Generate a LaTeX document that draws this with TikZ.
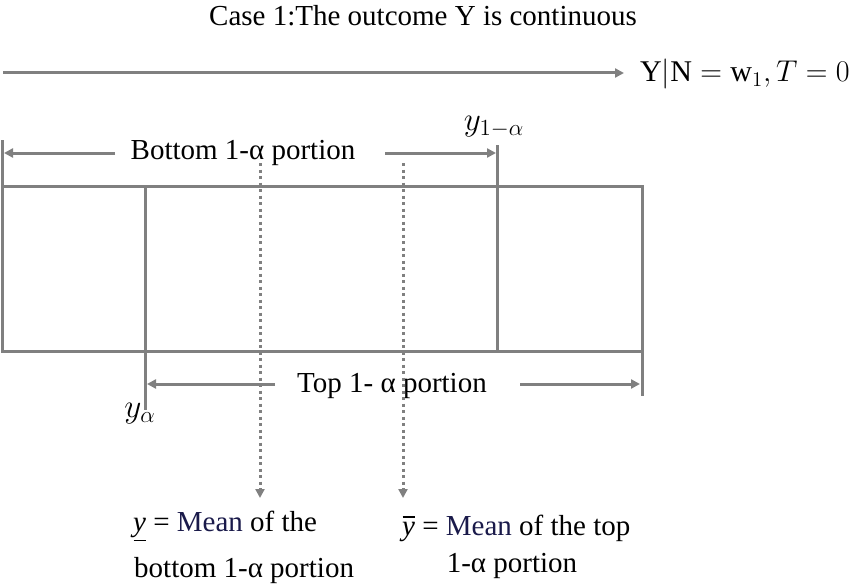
\documentclass[tikz,border=0pt]{standalone}
\usepackage{graphicx}
\usepackage{fontspec}
\setmainfont{Liberation Serif}
\usetikzlibrary{arrows.meta}
\definecolor{gr}{HTML}{808080}
\definecolor{meancol}{HTML}{1A1A4A}
\newcommand{\ybarover}{\ooalign{\textit{y}\cr\hidewidth\rule[0.6em]{0.42em}{0.045em}\hidewidth}}
\newcommand{\ybarunder}{\ooalign{\textit{y}\cr\hidewidth\rule[-0.34em]{0.42em}{0.045em}\hidewidth}}
\newcommand{\bigmath}[2]{\scalebox{#1}{$#2$}}
\begin{document}
\begin{tikzpicture}[x=1pt,y=-1pt,
  line/.style={draw=gr, line width=3pt},
  tip/.style={-{Triangle[length=9pt,width=9pt]}},
  dotline/.style={draw=gr, line width=3pt, dash pattern=on 3pt off 3.5pt},
  txt/.style={inner sep=0pt, font=\fontsize{29}{34}\selectfont},
  mtxt/.style={inner sep=0pt, font=\fontsize{20.74}{24}\selectfont}]
\useasboundingbox (0,0) rectangle (863,586);
% title
\node[txt] (title) at (423,16) {Case 1:The outcome Y is continuous};
% axis
\coordinate (a0) at (3,73);
\coordinate (a1) at (624,73);
\draw[line, tip] (a0) -- (a1);
\node[mtxt, anchor=west] (ylab) at (640,74) {\bigmath{1.45}{\mathrm{Y|N}=\mathrm{w}_1, T=0}};
% box
\draw[line] (2,186) rectangle (642,351);
\draw[line] (145,186) -- (145,351);
\draw[line] (497,186) -- (497,351);
% ticks
\draw[line] (2,186) -- (2,140);
\draw[line] (497,186) -- (497,145);
\draw[line] (145,351) -- (145,410);
\draw[line] (642,351) -- (642,396);
% bottom portion label
\node[txt] (bot) at (243,153) {Bottom 1-α portion};
\coordinate (b0) at (115,153);
\coordinate (b1) at (4,153);
\coordinate (b2) at (385,153);
\coordinate (b3) at (496,153);
\draw[line, tip] (b0) -- (b1);
\draw[line, tip] (b2) -- (b3);
\node[mtxt] (yq) at (494,127) {\bigmath{1.6}{y_{1-\alpha}}};
% top portion label
\node[txt] (top) at (392,386) {Top 1- α portion};
\coordinate (t0) at (275,384);
\coordinate (t1) at (147,384);
\coordinate (t2) at (520,384);
\coordinate (t3) at (640,384);
\draw[line, tip] (t0) -- (t1);
\draw[line, tip] (t2) -- (t3);
\node[mtxt] (ya) at (140,414) {\bigmath{1.6}{y_{\alpha}}};
% means
\node[txt, anchor=west] (m1) at (133,526) {\ybarunder{} = \textcolor{meancol}{Mean} of the};
\node[txt, anchor=west] (m1b) at (134,571) {bottom 1-α portion};
\node[txt, anchor=west] (m2) at (402,528) {\ybarover{} = \textcolor{meancol}{Mean} of the top};
\node[txt] (m2b) at (512,566) {1-α portion};
\coordinate (d1) at (260,163);
\coordinate (d2) at (403,163);
\draw[dotline, tip] (d1) -- (260,498);
\draw[dotline, tip] (d2) -- (403,498);
\end{tikzpicture}
\end{document}
